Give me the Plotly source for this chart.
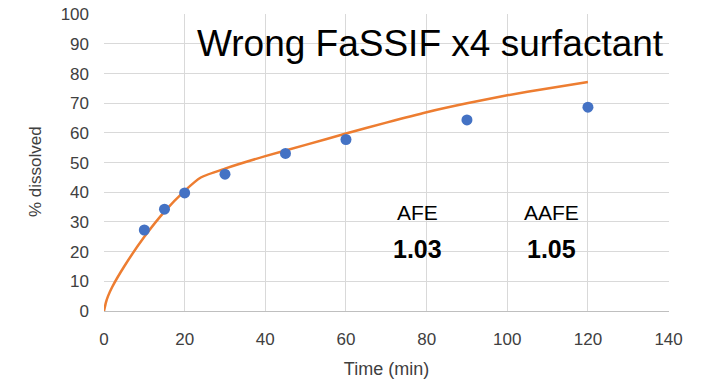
import plotly.graph_objects as go

# Observed data
obs_time = [10, 15, 20, 30, 45, 60, 90, 120]
obs_dissolved = [27.3, 34.3, 39.8, 46.1, 53.1, 57.8, 64.4, 68.7]

# Predicted curve
pred_time = [0, 0.5, 1, 2, 5, 10, 15, 20, 24, 30, 40, 50, 60, 70, 80, 90, 100, 110, 120]
pred_dissolved = [0, 3.0, 5.0, 8.0, 15.0, 25.0, 33.5, 40.5, 45.0, 48.0, 52.2, 56.0, 59.8, 63.5, 67.0, 70.0, 72.7, 75.0, 77.2]

x_ticks = [0, 20, 40, 60, 80, 100, 120, 140]
y_ticks = [0, 10, 20, 30, 40, 50, 60, 70, 80, 90, 100]

title_text = "Wrong FaSSIF x4 surfactant"
x_title = "Time (min)"
y_title = "% dissolved"
afe_label, afe_value = "AFE", "1.03"
aafe_label, aafe_value = "AAFE", "1.05"

FONT = "Liberation Sans"

fig = go.Figure()
fig.add_trace(go.Scatter(
    x=pred_time, y=pred_dissolved, mode="lines",
    line=dict(color="#ED7D31", width=2.5, shape="spline", smoothing=0.6),
    showlegend=False, hoverinfo="skip"))
fig.add_trace(go.Scatter(
    x=obs_time, y=obs_dissolved, mode="markers",
    marker=dict(color="#4472C4", size=11),
    showlegend=False))

fig.update_layout(
    width=707, height=379,
    margin=dict(l=104, r=38, t=14, b=68),
    paper_bgcolor="white", plot_bgcolor="white",
    font=dict(family=FONT, color="#404040", size=17),
    xaxis=dict(range=[0, 140.1], tickvals=x_ticks, showgrid=True, gridcolor="#d9d9d9",
               gridwidth=1, showline=True, linecolor="#bfbfbf", linewidth=1,
               zeroline=False, ticks="", ticklabelstandoff=13, automargin=False,
               ticklabeloverflow="allow",
               title=dict(text=x_title, font=dict(size=18, color="#404040"), standoff=15)),
    yaxis=dict(range=[0, 100.1], tickvals=y_ticks, showgrid=True, gridcolor="#d9d9d9",
               gridwidth=1, showline=False, zeroline=False, ticks="", ticklabelstandoff=14,
               automargin=False, ticklabeloverflow="allow"),
)

fig.add_annotation(x=0, y=0.468, xref="paper", yref="paper", xanchor="center", yanchor="middle",
                   text=y_title, textangle=-90, showarrow=False, xshift=-69,
                   font=dict(size=17, color="#404040", family=FONT))
fig.add_annotation(x=1.0, y=0.90, xref="paper", yref="paper", xanchor="right", yanchor="middle",
                   text=title_text, showarrow=False, font=dict(size=37, color="black", family=FONT),
                   xshift=-3)
fig.add_annotation(x=77.7, y=33.3, text=afe_label, showarrow=False,
                   font=dict(size=21, color="black", family=FONT))
fig.add_annotation(x=77.7, y=20.9, text="<b>" + afe_value + "</b>", showarrow=False,
                   font=dict(size=25, color="black", family=FONT))
fig.add_annotation(x=110.9, y=33.3, text=aafe_label, showarrow=False,
                   font=dict(size=21, color="black", family=FONT))
fig.add_annotation(x=110.9, y=20.9, text="<b>" + aafe_value + "</b>", showarrow=False,
                   font=dict(size=25, color="black", family=FONT))

fig.write_html("out.html", config={"displayModeBar": False},
               post_script="document.body.style.margin='0px';")
